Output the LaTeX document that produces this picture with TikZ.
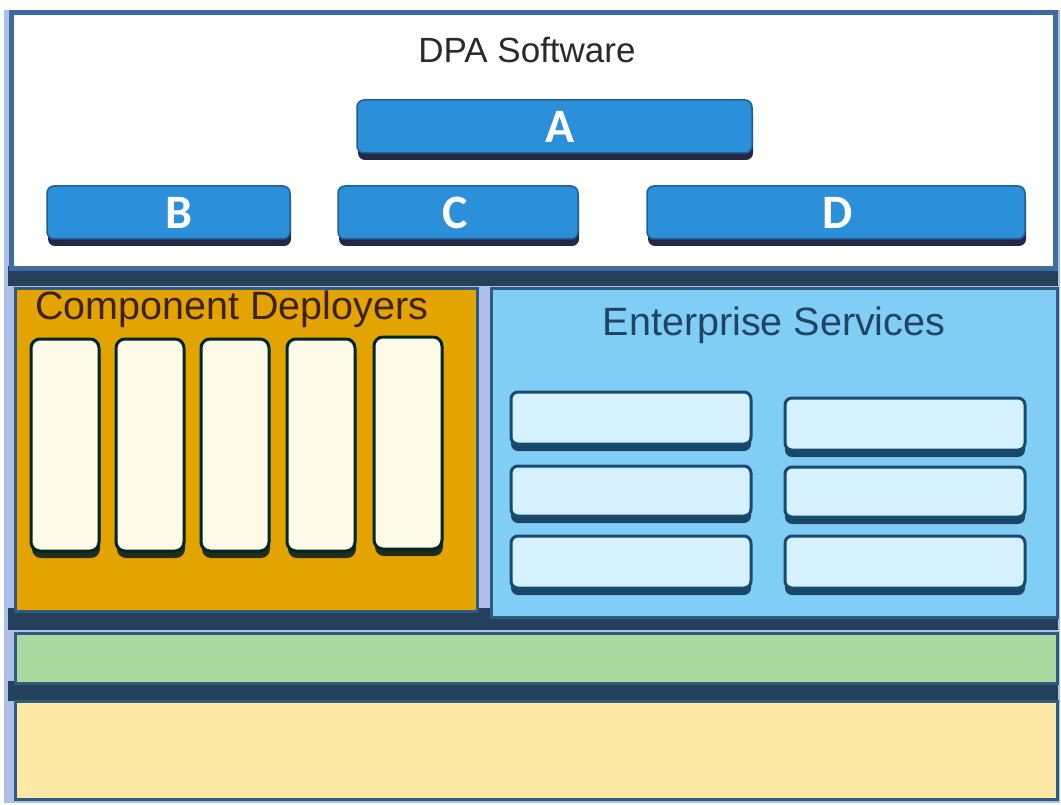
\documentclass[tikz,border=0pt]{standalone}
\usepackage{fontspec}
\setmainfont{Liberation Sans}
\newfontfamily\btnfont{Carlito}
\usetikzlibrary{shadows}
\definecolor{lav}{HTML}{AFC0E8}
\definecolor{frameblue}{HTML}{3F6B9E}
\definecolor{darkbar}{HTML}{25405A}
\definecolor{btnblue}{HTML}{2B8FDA}
\definecolor{btnedge}{HTML}{1E5E90}
\definecolor{gold}{HTML}{E3A300}
\definecolor{skyfill}{HTML}{80CDF6}
\definecolor{cream}{HTML}{FDFBE8}
\definecolor{svcfill}{HTML}{D5F1FB}
\definecolor{greenband}{HTML}{A9DBA0}
\definecolor{yellowband}{HTML}{FEE8A6}
\definecolor{titlegray}{HTML}{2A2A2A}
\definecolor{brown}{HTML}{3E2200}
\definecolor{navytext}{HTML}{1F4464}
\definecolor{panel edge}{HTML}{2F5B80}
\begin{document}
\begin{tikzpicture}[x=1pt,y=-1pt,
  box/.style={rectangle,anchor=north west,inner sep=0pt,outer sep=0pt},
  panel/.style={box,draw=panel edge,line width=3pt},
  btn/.style={box,rounded corners=7pt,fill=btnblue,draw=btnedge,line width=1.5pt,
    drop shadow={shadow xshift=1pt,shadow yshift=-7pt,fill=black!85!blue,opacity=0.85}},
  letter/.style={text=white,font=\btnfont\bfseries\fontsize{48}{48}\selectfont},
  pillar/.style={box,rounded corners=9pt,fill=cream,draw=black!70!teal,line width=3pt,
    drop shadow={shadow xshift=1pt,shadow yshift=-7pt,fill=black!80!teal,opacity=0.85}},
  svc/.style={box,rounded corners=7pt,fill=svcfill,draw=btnedge!80!black,line width=3pt,
    drop shadow={shadow xshift=0pt,shadow yshift=-7pt,fill=btnedge!60!black,opacity=0.9}},
  bar/.style={box,fill=darkbar}]
\useasboundingbox (0,0) rectangle (1061,805);
\fill[white] (0,0) rectangle (1061,805);
\fill[lav] (4,10) rectangle (1060,803);
% dark separator bars
\node[bar,minimum width=1050pt,minimum height=20pt] (bar1) at (8,266) {};
\node[bar,minimum width=1050pt,minimum height=22pt] (bar2) at (8,608) {};
\node[bar,minimum width=1050pt,minimum height=20pt] (bar3) at (8,681) {};
% top panel
\node[panel,fill=white,draw=frameblue,line width=5pt,minimum width=1044pt,minimum height=256pt] (top) at (11,13) {};
\node[font=\fontsize{35}{40}\selectfont,text=titlegray] (dpa) at (527,50) {DPA Software};
\node[btn,minimum width=395pt,minimum height=53pt] (A) at (357,100) {};
\node[letter] (Al) at ([xshift=6pt]A.center) {A};
\node[btn,minimum width=243pt,minimum height=53pt] (B) at (47,186) {};
\node[letter] (Bl) at ([xshift=10pt]B.center) {B};
\node[btn,minimum width=240pt,minimum height=53pt] (C) at (338,186) {};
\node[letter] (Cl) at ([xshift=-3pt]C.center) {C};
\node[btn,minimum width=378pt,minimum height=53pt] (D) at (647,186) {};
\node[letter] (Dl) at ([xshift=2pt]D.center) {D};
% component deployers
\node[panel,fill=gold,minimum width=462pt,minimum height=322pt] (cd) at (15,289) {};
\node[anchor=north west,inner sep=0pt,text=brown,font=\fontsize{39.5}{40}\selectfont] (cdt) at (35,291) {Component Deployers};
\node[pillar,minimum width=68pt,minimum height=212pt] (p1) at (31,339) {};
\node[pillar,minimum width=68pt,minimum height=212pt] (p2) at (116,339) {};
\node[pillar,minimum width=68pt,minimum height=212pt] (p3) at (201,339) {};
\node[pillar,minimum width=68pt,minimum height=212pt] (p4) at (287,339) {};
\node[pillar,minimum width=68pt,minimum height=212pt] (p5) at (374,337) {};
% enterprise services
\node[panel,fill=skyfill,minimum width=566pt,minimum height=328pt] (es) at (491,289) {};
\node[text=navytext,font=\fontsize{39.5}{40}\selectfont] (est) at (774,325) {Enterprise Services};
\node[svc,minimum width=240pt,minimum height=52pt] (s1) at (511,392) {};
\node[svc,minimum width=240pt,minimum height=50pt] (s2) at (511,466) {};
\node[svc,minimum width=240pt,minimum height=52pt] (s3) at (511,536) {};
\node[svc,minimum width=240pt,minimum height=52pt] (s4) at (785,398) {};
\node[svc,minimum width=240pt,minimum height=50pt] (s5) at (785,467) {};
\node[svc,minimum width=240pt,minimum height=52pt] (s6) at (785,536) {};
% bottom bands
\node[panel,fill=greenband,minimum width=1042pt,minimum height=50pt] (green) at (15,633) {};
\node[panel,fill=yellowband,minimum width=1042pt,minimum height=98pt] (yellow) at (15,701) {};
\end{tikzpicture}
\end{document}
